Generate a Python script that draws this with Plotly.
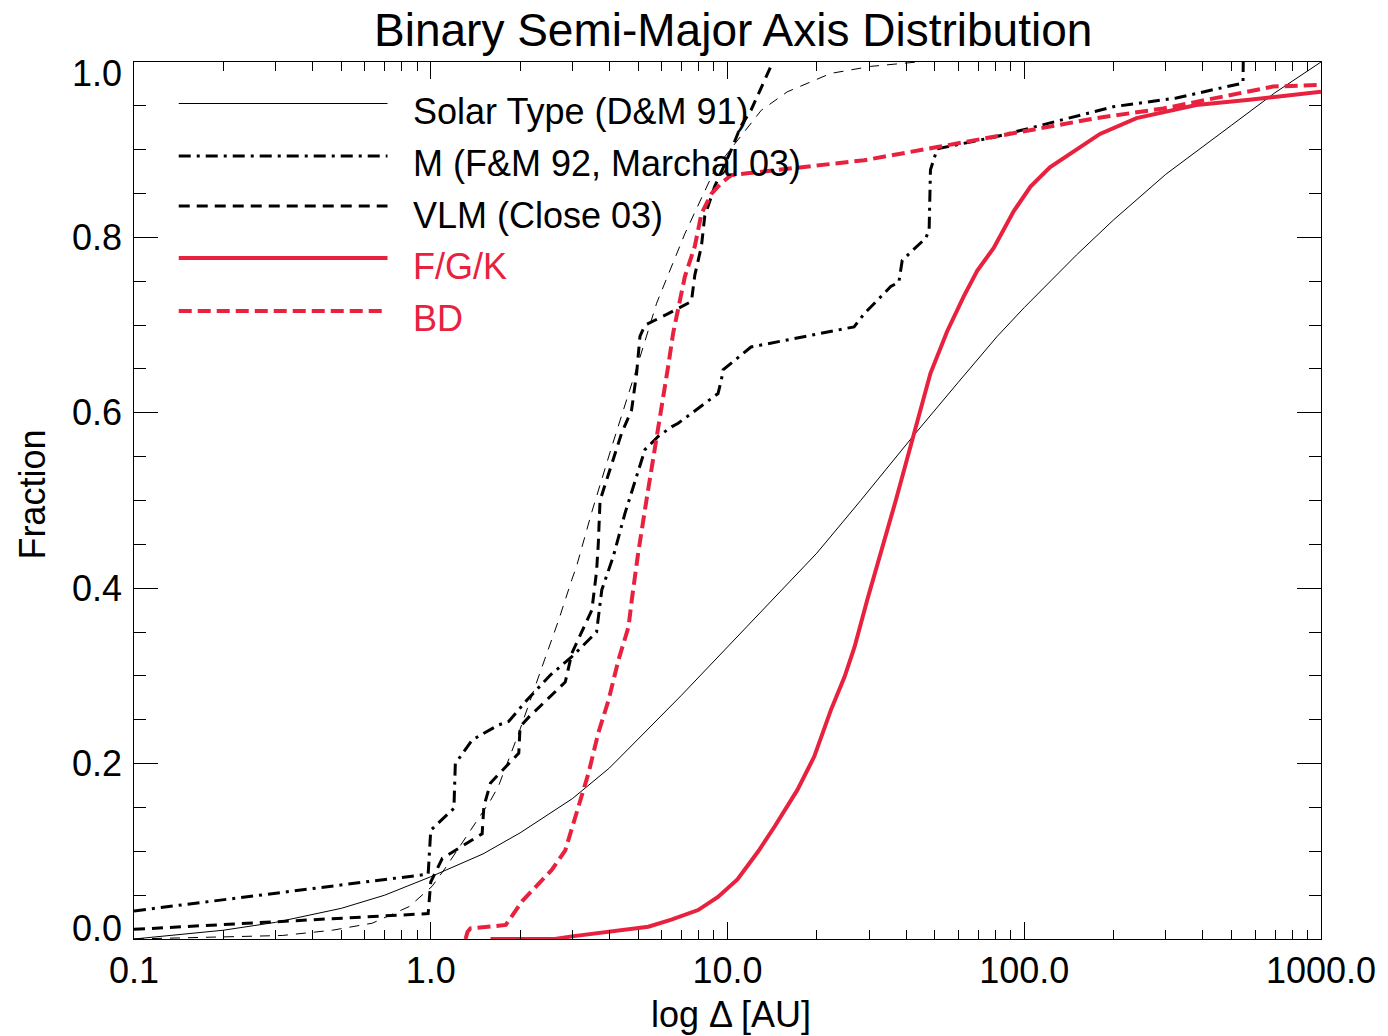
import plotly.graph_objects as go

# ---------------- data (semi-major axis in AU, cumulative fraction) ----------------
solar_a = [0.1, 0.2, 0.3, 0.5, 0.7, 1.0, 1.5, 2.0, 3.0, 4.0, 5.0, 7.0, 10.0, 20.0, 28.1, 42.6,
           60.0, 81.0, 100.0, 150.0, 200.0, 300.0, 500.0, 700.0, 1000.0]
solar_f = [0.0, 0.010, 0.019, 0.035, 0.050, 0.071, 0.097, 0.121, 0.160, 0.195, 0.228, 0.278,
           0.333, 0.440, 0.500, 0.575, 0.635, 0.687, 0.720, 0.780, 0.820, 0.872, 0.928, 0.965, 1.0]

m_a = [0.1, 0.98, 1.0, 1.197, 1.21, 1.38, 1.69, 1.83, 2.11, 2.53, 2.99, 3.62, 3.77, 4.12,
       4.51, 5.0, 5.27, 5.84, 6.48, 6.82, 9.29, 9.53, 9.66, 12.0, 17.2, 26.7, 28.9, 35.5,
       37.8, 38.8, 46.5, 47.8, 48.3, 50.9, 80.9, 199.5, 325.7, 546.0, 547.0]
m_f = [0.032, 0.074, 0.124, 0.149, 0.200, 0.227, 0.244, 0.248, 0.2725, 0.301, 0.322, 0.350,
       0.398, 0.436, 0.485, 0.535, 0.558, 0.573, 0.584, 0.588, 0.622, 0.637, 0.649, 0.675,
       0.685, 0.698, 0.713, 0.744, 0.749, 0.774, 0.799, 0.808, 0.877, 0.901, 0.915, 0.949,
       0.959, 0.976, 1.0]

vlm_a = [0.1, 0.98, 1.0, 1.094, 1.49, 1.51, 1.59, 1.98, 2.0, 2.14, 2.84, 2.99, 3.49, 3.62,
         3.67, 3.72, 3.98, 4.40, 4.75, 4.94, 5.07, 5.27, 6.31, 7.56, 7.76, 8.17, 8.38, 9.05,
         10.3, 11.1, 12.0, 12.7, 14.0, 14.4]
vlm_f = [0.011, 0.029, 0.065, 0.092, 0.120, 0.151, 0.178, 0.212, 0.242, 0.253, 0.293, 0.326,
         0.375, 0.419, 0.451, 0.500, 0.531, 0.577, 0.603, 0.645, 0.687, 0.700, 0.713, 0.727,
         0.757, 0.790, 0.824, 0.858, 0.900, 0.927, 0.945, 0.964, 0.995, 1.0]

vlmfit_a = [0.1, 0.316, 0.466, 0.635, 0.846, 1.01, 1.12, 1.59, 1.69, 1.98, 2.37, 2.70, 2.99,
            3.10, 3.49, 4.07, 4.88, 5.77, 7.18, 9.05, 10.6, 13.0, 15.9, 22.3, 30.4, 43.6]
vlmfit_f = [0.0, 0.004, 0.010, 0.018, 0.037, 0.060, 0.081, 0.158, 0.174, 0.235, 0.310, 0.364,
            0.410, 0.425, 0.487, 0.561, 0.645, 0.725, 0.804, 0.877, 0.907, 0.945, 0.966, 0.987,
            0.995, 1.0]

fgk_a = [1.59, 2.62, 2.99, 3.97, 5.41, 6.47, 7.96, 9.29, 10.8, 12.7, 14.4, 17.2, 19.6, 22.3,
         24.8, 26.8, 29.6, 36.9, 42.6, 48.3, 55.0, 62.6, 69.4, 78.9, 92.2, 105.0, 122.0, 143.0,
         180.0, 239.0, 380.0, 574.0, 1000.0]
fgk_f = [0.0, 0.0, 0.003, 0.008, 0.014, 0.022, 0.033, 0.048, 0.068, 0.100, 0.128, 0.170, 0.208,
         0.261, 0.299, 0.333, 0.387, 0.500, 0.577, 0.645, 0.693, 0.733, 0.762, 0.788, 0.830,
         0.858, 0.880, 0.895, 0.918, 0.936, 0.951, 0.957, 0.966]

bd_a = [1.31, 1.33, 1.36, 1.79, 2.03, 2.56, 2.84, 3.07, 3.40, 3.67, 3.97, 4.29, 4.64, 4.76,
        5.0, 5.33, 5.69, 6.0, 6.31, 6.56, 6.82, 7.18, 7.76, 8.17, 8.83, 9.53, 10.3, 13.3, 19.1,
        28.9, 50.9, 80.9, 175.0, 294.0, 492.0, 605.0, 689.0, 1000.0]
bd_f = [0.0, 0.008, 0.012, 0.016, 0.043, 0.079, 0.101, 0.139, 0.189, 0.235, 0.272, 0.318, 0.356,
        0.387, 0.440, 0.500, 0.558, 0.603, 0.653, 0.691, 0.721, 0.755, 0.790, 0.827, 0.850,
        0.862, 0.871, 0.875, 0.881, 0.888, 0.903, 0.915, 0.936, 0.947, 0.962, 0.968, 0.972, 0.974]

x_tickvals = [0.1, 1, 10, 100, 1000]
x_ticktext = ["0.1", "1.0", "10.0", "100.0", "1000.0"]
y_tickvals = [0.0, 0.2, 0.4, 0.6, 0.8, 1.0]
y_ticktext = ["0.0", "0.2", "0.4", "0.6", "0.8", "1.0"]

legend_names = ["Solar Type (D&M 91)", "M (F&M 92, Marchal 03)", "VLM (Close 03)", "F/G/K", "BD"]

# ---------------- style ----------------
RED = "#E8213F"
FONT = "Liberation Sans, Arial, Helvetica, sans-serif"
W, H = 1388, 1036
L, R, T, B = 134, 60, 62, 97
PW, PH = W - L - R, H - T - B

styles = [
    dict(color="black", width=1, dash="solid"),
    dict(color="black", width=3, dash="12px,6px,3px,6px"),
    dict(color="black", width=3, dash="11px,7px"),
    dict(color=RED, width=4, dash="solid"),
    dict(color=RED, width=4, dash="13px,6px"),
]
thin_dash = dict(color="black", width=1, dash="10px,8px")

fig = go.Figure()
series = [(solar_a, solar_f, styles[0]), (m_a, m_f, styles[1]), (vlm_a, vlm_f, styles[2]),
          (vlmfit_a, vlmfit_f, thin_dash), (fgk_a, fgk_f, styles[3]), (bd_a, bd_f, styles[4])]
for xa, ya, st in series:
    fig.add_trace(go.Scatter(x=xa, y=ya, mode="lines", line=st, showlegend=False,
                             hoverinfo="skip"))

def px_x(px):
    return (px - L) / PW

def px_y(py):
    return (H - B - py) / PH

annotations = []
shapes = []
# legend
leg_line_y = [103.5, 156, 206, 258, 311]
leg_text_y = [112, 164, 215, 266, 318]
for name, st, ly, ty in zip(legend_names, styles, leg_line_y, leg_text_y):
    shapes.append(dict(type="line", xref="paper", yref="paper",
                       x0=px_x(179), x1=px_x(389), y0=px_y(ly), y1=px_y(ly),
                       line=dict(color=st["color"], width=st["width"], dash=st["dash"])))
    annotations.append(dict(text=name, xref="paper", yref="paper", x=px_x(413), y=px_y(ty),
                            xanchor="left", yanchor="middle", showarrow=False,
                            font=dict(family=FONT, size=36, color=st["color"])))

# y tick labels (ends shifted inward like the original)
for v, t in zip(y_tickvals, y_ticktext):
    shift = 11 if v == 0.0 else (-11 if v == 1.0 else 0)
    annotations.append(dict(text=t, xref="paper", yref="y", x=0, y=v, xshift=-10, yshift=shift,
                            xanchor="right", yanchor="middle", showarrow=False,
                            font=dict(family=FONT, size=36, color="black")))

# titles
annotations.append(dict(text="Binary Semi-Major Axis Distribution", xref="paper", yref="paper",
                        x=px_x(736.5), y=px_y(30), xanchor="center", yanchor="middle",
                        showarrow=False, font=dict(family=FONT, size=46, color="black")))
annotations.append(dict(text="log Δ [AU]", xref="paper", yref="paper",
                        x=px_x(735), y=px_y(1015), xanchor="center", yanchor="middle",
                        showarrow=False, font=dict(family=FONT, size=36, color="black")))
annotations.append(dict(text="Fraction", xref="paper", yref="paper", textangle=-90,
                        x=px_x(31), y=px_y(495), xanchor="center", yanchor="middle",
                        showarrow=False, font=dict(family=FONT, size=36, color="black")))

x_minor = [m * 10 ** e for e in range(-1, 3) for m in range(2, 10)]

fig.update_layout(
    width=W, height=H, autosize=False,
    margin=dict(l=L, r=R, t=T, b=B, pad=0),
    paper_bgcolor="white", plot_bgcolor="white",
    shapes=shapes, annotations=annotations,
    font=dict(family=FONT, size=36, color="black"),
    xaxis=dict(type="log", range=[-1, 3], showgrid=False, zeroline=False,
               showline=True, linecolor="black", linewidth=1, mirror="ticks",
               ticks="inside", ticklen=17, tickwidth=1, tickcolor="black",
               tickmode="array", tickvals=x_tickvals, ticktext=x_ticktext,
               tickfont=dict(family=FONT, size=36, color="black"),
               minor=dict(ticks="inside", ticklen=9, tickwidth=1, tickcolor="black",
                          tickmode="array", tickvals=x_minor, showgrid=False)),
    yaxis=dict(range=[0, 1], showgrid=False, zeroline=False,
               showline=True, linecolor="black", linewidth=1, mirror="ticks",
               ticks="inside", ticklen=24, tickwidth=1, tickcolor="black",
               tickmode="array", tickvals=y_tickvals, showticklabels=False,
               minor=dict(ticks="inside", ticklen=12, tickwidth=1, tickcolor="black",
                          dtick=0.05, showgrid=False)),
)

fig.write_html("out.html")
